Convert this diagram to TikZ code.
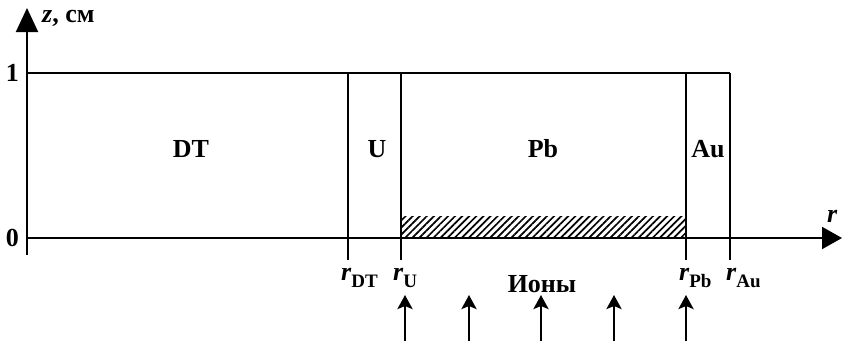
\documentclass[tikz,border=0pt]{standalone}
\usepackage{fontspec}
\setmainfont{Liberation Serif}
\usetikzlibrary{arrows.meta,patterns.meta}
\begin{document}
\begin{tikzpicture}[x=1pt,y=-1pt,
  ax/.style={line width=2pt},
  ln/.style={line width=1.8pt},
  lab/.style={font=\fontsize{26}{30}\selectfont\bfseries, inner sep=0pt},
  sub/.style={font=\fontsize{26}{30}\selectfont\bfseries, inner sep=0pt, anchor=base west},
  ion/.style={line width=2.8pt, -{Stealth[length=14pt,width=15pt,inset=3pt]}}]
\useasboundingbox (0,0) rectangle (842,346);
% axes
\coordinate (ybot) at (27,255);
\coordinate (ytop) at (27,8);
\coordinate (xl) at (27,238);
\coordinate (xr) at (842,238);
\fill[pattern={Lines[angle=45,distance=5pt,line width=1.7pt]}] (401,216) rectangle (686,238);
\draw[ax,-{Triangle[length=24pt,width=22pt]}] (ybot) -- (ytop);
\draw[ax,-{Triangle[length=20pt,width=22pt]}] (xl) -- (xr);
% top line and boundaries
\coordinate (t0) at (27,73);
\coordinate (t1) at (730,73);
\draw[ln] (t0) -- (t1);
\foreach \n/\x in {dt/348,u/401,pb/686,au/730}{
  \coordinate (\n top) at (\x,73);
  \coordinate (\n bot) at (\x,260);
  \draw[ln] (\n top) -- (\n bot);
}
% axis labels
\node[lab, anchor=base west] (zl) at (42,22) {\itshape z\upshape, см};
\node[lab, anchor=base west] (rl) at (827,222) {\itshape r};
\node[lab, anchor=base east] (one) at (19,81) {1};
\node[lab, anchor=base east] (zero) at (19,246) {0};
% region labels
\node[lab, anchor=base] (DT) at (191,157) {DT};
\node[lab, anchor=base] (U) at (377,157) {U};
\node[lab, anchor=base] (Pb) at (543,157) {Pb};
\node[lab, anchor=base] (Au) at (708,157) {Au};
% radius labels
\node[sub] (rdt) at (341,280) {\itshape r\upshape\raisebox{-7pt}{\fontsize{19}{19}\selectfont DT}};
\node[sub] (ru) at (393,280) {\itshape r\upshape\raisebox{-7pt}{\fontsize{19}{19}\selectfont U}};
\node[sub] (rpb) at (679,280) {\itshape r\upshape\raisebox{-7pt}{\fontsize{19}{19}\selectfont Pb}};
\node[sub] (rau) at (726,280) {\itshape r\upshape\raisebox{-7pt}{\fontsize{19}{19}\selectfont Au}};
\node[lab, anchor=base] (ions) at (542,292) {Ионы};
% ion arrows
\foreach \i/\x in {1/405,2/469,3/541,4/614,5/686}{
  \coordinate (a\i b) at (\x,341);
  \coordinate (a\i t) at (\x,295);
  \draw[ion] (a\i b) -- (a\i t);
}
\end{tikzpicture}
\end{document}
